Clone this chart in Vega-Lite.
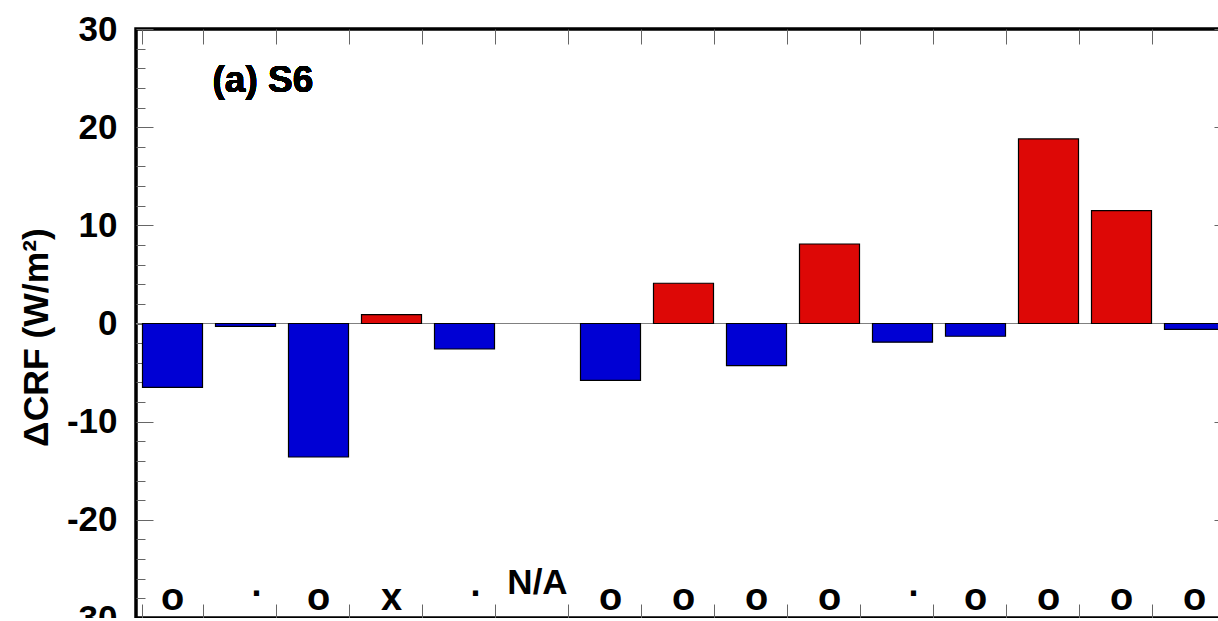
{
  "$schema": "https://vega.github.io/schema/vega-lite/v6.json",
  "width": 1095,
  "height": 589,
  "autosize": {"type": "none"},
  "padding": {"left": 136, "top": 29, "right": 0, "bottom": 0},
  "background": "white",
  "config": {
    "view": {"stroke": "black", "strokeWidth": 3.5},
    "font": "Liberation Sans",
    "axis": {"grid": false, "domain": false, "tickColor": "#666", "tickWidth": 1}
  },
  "data": {
    "values": [
      {"cat": "1", "value": -6.5, "sym": "o"},
      {"cat": "2", "value": -0.3, "sym": "."},
      {"cat": "3", "value": -13.6, "sym": "o"},
      {"cat": "4", "value": 0.9, "sym": "x"},
      {"cat": "5", "value": -2.6, "sym": "."},
      {"cat": "6", "value": null, "sym": "N/A"},
      {"cat": "7", "value": -5.8, "sym": "o"},
      {"cat": "8", "value": 4.1, "sym": "o"},
      {"cat": "9", "value": -4.3, "sym": "o"},
      {"cat": "10", "value": 8.1, "sym": "o"},
      {"cat": "11", "value": -1.9, "sym": "."},
      {"cat": "12", "value": -1.3, "sym": "o"},
      {"cat": "13", "value": 18.8, "sym": "o"},
      {"cat": "14", "value": 11.5, "sym": "o"},
      {"cat": "15", "value": -0.6, "sym": "o"}
    ]
  },
  "layer": [
    {
      "mark": {"type": "rule", "color": "#808080", "strokeWidth": 1},
      "encoding": {
        "y": {
          "datum": 0,
          "type": "quantitative",
          "axis": {
            "orient": "right",
            "values": [-30, -28, -26, -24, -22, -20, -18, -16, -14, -12, -10, -8, -6, -4, -2, 0, 2, 4, 6, 8, 10, 12, 14, 16, 18, 20, 22, 24, 26, 28, 30],
            "tickSize": {"condition": {"test": "datum.value % 10 === 0", "value": -17}, "value": -9},
            "labels": false,
            "title": null
          }
        }
      }
    },
    {
      "mark": {"type": "bar", "stroke": "black", "strokeWidth": 1.2},
      "encoding": {
        "x": {
          "field": "cat",
          "type": "ordinal",
          "scale": {"domain": ["1","2","3","4","5","6","7","8","9","10","11","12","13","14","15"], "paddingInner": 0.178, "paddingOuter": 0.089},
          "axis": {"orient": "bottom", "labels": false, "title": null, "tickBand": "extent", "tickSize": -14}
        },
        "y": {
          "field": "value",
          "type": "quantitative",
          "scale": {"domain": [-30, 30], "nice": false},
          "axis": {
            "orient": "left",
            "values": [-30, -28, -26, -24, -22, -20, -18, -16, -14, -12, -10, -8, -6, -4, -2, 0, 2, 4, 6, 8, 10, 12, 14, 16, 18, 20, 22, 24, 26, 28, 30],
            "tickSize": {"condition": {"test": "datum.value % 10 === 0", "value": -17}, "value": -9},
            "labelExpr": "datum.value % 10 === 0 ? '' + datum.value : ''",
            "labelOverlap": false,
            "labelFontSize": 35,
            "labelFontWeight": "bold",
            "labelColor": "black",
            "labelPadding": 36,
            "title": "ΔCRF (W/m²)",
            "titleFontSize": 35.5,
            "titleFontWeight": "bold",
            "titleColor": "black",
            "titleAngle": -90,
            "titleAlign": "center",
            "titleBaseline": "alphabetic",
            "titleX": -89,
            "titleY": 308
          }
        },
        "color": {"condition": {"test": "datum.value > 0", "value": "#dd0806"}, "value": "#0000d4"}
      }
    },
    {
      "transform": [{"filter": "datum.sym === 'o' || datum.sym === 'x'"}],
      "mark": {"type": "text", "fontSize": 38, "fontWeight": "bold", "baseline": "alphabetic", "color": "black"},
      "encoding": {
        "x": {"field": "cat", "type": "ordinal", "axis": {"orient": "top", "labels": false, "title": null, "tickBand": "extent", "tickSize": -15}},
        "y": {"datum": -29.2, "type": "quantitative", "axis": null},
        "text": {"field": "sym"}
      }
    },
    {
      "transform": [{"filter": "datum.sym === '.'"}],
      "mark": {"type": "text", "fontSize": 36, "fontWeight": "bold", "baseline": "alphabetic", "dx": 11, "color": "black"},
      "encoding": {
        "x": {"field": "cat", "type": "ordinal", "axis": null},
        "y": {"datum": -27.8, "type": "quantitative", "axis": null},
        "text": {"field": "sym"}
      }
    },
    {
      "transform": [{"filter": "datum.sym === 'N/A'"}],
      "mark": {"type": "text", "fontSize": 35, "fontWeight": "bold", "baseline": "alphabetic", "color": "black"},
      "encoding": {
        "x": {"field": "cat", "type": "ordinal", "axis": null},
        "y": {"datum": -27.6, "type": "quantitative", "axis": null},
        "text": {"field": "sym"}
      }
    },
    {
      "mark": {"type": "text", "fontSize": 37, "fontWeight": "bold", "baseline": "alphabetic", "align": "left", "dx": -3, "color": "black", "text": "(a) S6"},
      "encoding": {
        "x": {"datum": "2", "type": "ordinal", "bandPosition": 0, "axis": null},
        "y": {"datum": 23.6, "type": "quantitative", "axis": null}
      }
    }
  ],
  "resolve": {"axis": {"x": "independent", "y": "independent"}}
}
